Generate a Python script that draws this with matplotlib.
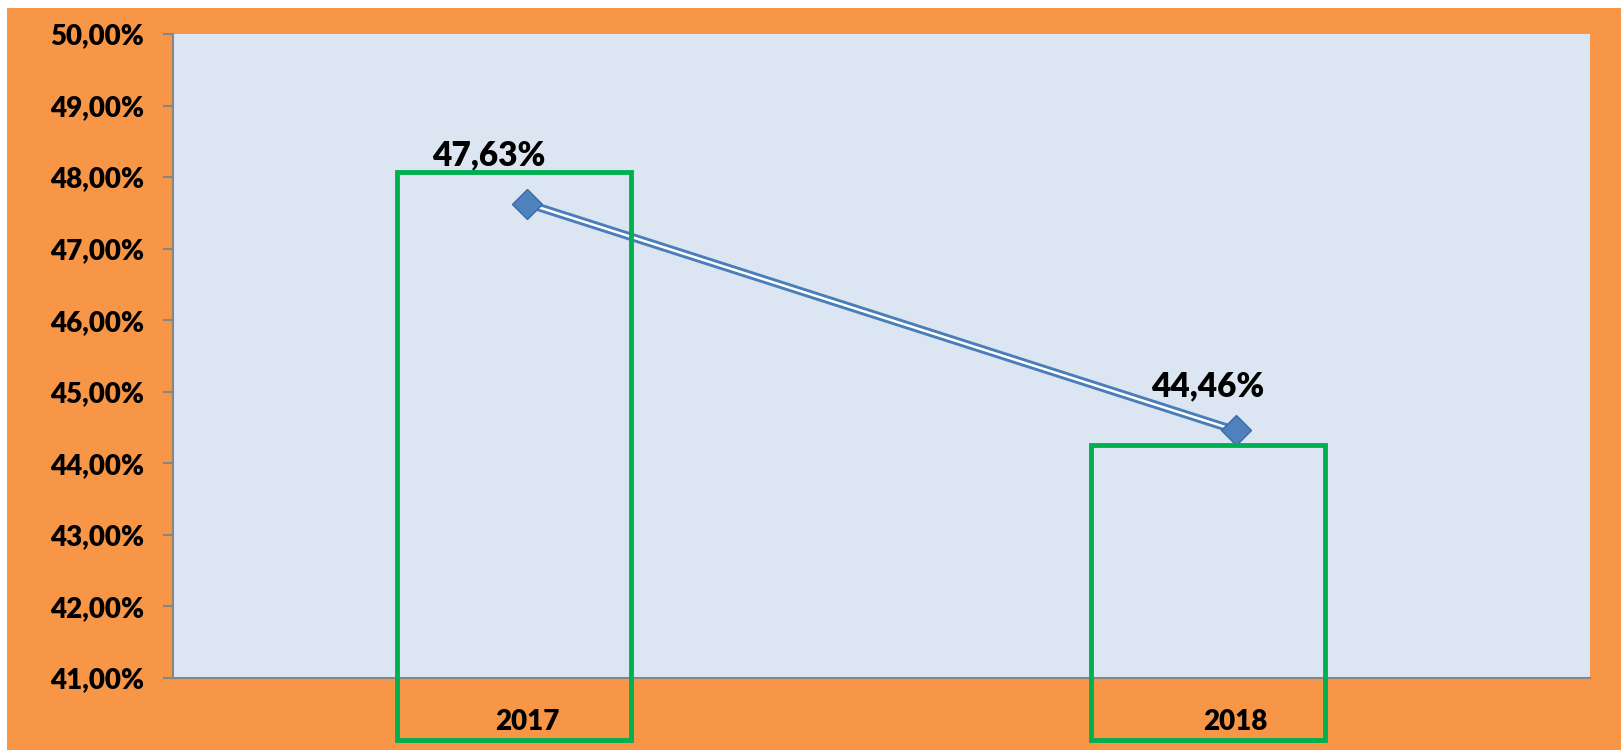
import matplotlib
matplotlib.use("Agg")
import matplotlib.pyplot as plt
from matplotlib.patches import Rectangle
from matplotlib.ticker import FuncFormatter, MultipleLocator

# data
years = ["2017", "2018"]
rates = [47.63, 44.46]
y_min, y_max = 41.0, 50.0

# highlight boxes drawn around each year (data coords: left, bottom, width, top)
boxes = [(0.316, 40.13, 0.33, 48.07), (1.296, 40.13, 0.33, 44.26)]

ORANGE = "#F79646"
PLOT_BG = "#DCE6F2"
BLUE = "#4A7EBB"
GREEN = "#00B050"

plt.rcParams["font.family"] = ["Lato", "DejaVu Sans"]
plt.rcParams["font.weight"] = "heavy"

fig = plt.figure(figsize=(16.21, 7.5), dpi=100)
fig.patch.set_facecolor("white")
fig.patches.append(Rectangle((7 / 1621, 0), 1 - 7 / 1621, 742 / 750,
                             transform=fig.transFigure, facecolor=ORANGE,
                             edgecolor="none", zorder=-1))

ax = fig.add_axes([173 / 1621, 1 - 678 / 750, 1417 / 1621, 644 / 750])
ax.set_facecolor(PLOT_BG)
ax.set_xlim(0, 2)
ax.set_ylim(y_min, y_max)

x = [i + 0.5 for i in range(len(years))]

# double line: blue with a thin white core
ax.plot(x, rates, color=BLUE, lw=6, solid_capstyle="butt", zorder=3)
ax.plot(x, rates, color="white", lw=1.8, solid_capstyle="butt", zorder=4)
ax.plot(x, rates, ls="none", marker="D", ms=15, mfc="#4F81BD",
        mec="#3A6AA8", mew=1, zorder=5)

offsets = [(-28, 35), (-20, 32)]
for xi, v, off in zip(x, rates, offsets):
    ax.annotate(f"{v:.2f}%".replace(".", ","), (xi, v), xytext=off,
                textcoords="offset points", ha="center", va="center",
                fontsize=24, fontweight="heavy", color="black", zorder=6)

for left, bottom, w, top in boxes:
    ax.add_patch(Rectangle((left, bottom), w, top - bottom, fill=False,
                           edgecolor=GREEN, lw=3.5, clip_on=False, zorder=7))

ax.yaxis.set_major_locator(MultipleLocator(1))
ax.yaxis.set_major_formatter(FuncFormatter(lambda v, p: f"{v:.2f}%".replace(".", ",")))
ax.set_xticks(x)
ax.set_xticklabels(years)
ax.tick_params(axis="x", length=0, pad=22, labelsize=20)
ax.tick_params(axis="y", length=7, width=1.5, color="#868686", pad=14, labelsize=20)
for lab in ax.get_xticklabels() + ax.get_yticklabels():
    lab.set_fontweight("heavy")

for side in ["top", "right"]:
    ax.spines[side].set_visible(False)
for side in ["left", "bottom"]:
    ax.spines[side].set_color("#868686")
    ax.spines[side].set_linewidth(1.5)

fig.savefig("out.png", dpi=100)
